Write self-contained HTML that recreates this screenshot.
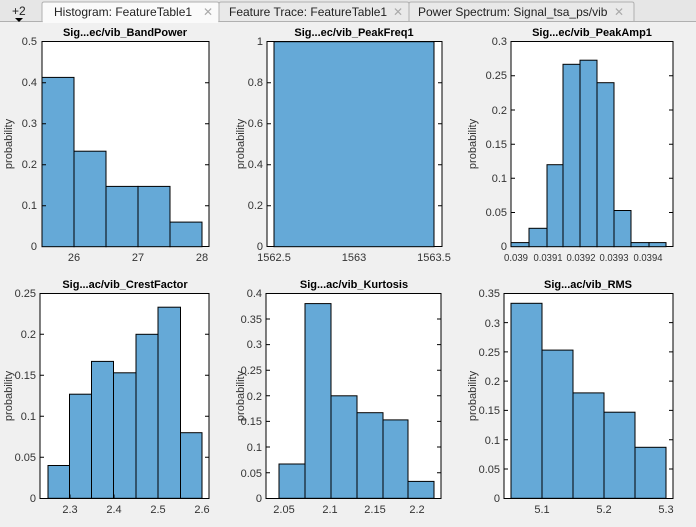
<!DOCTYPE html>
<html><head><style>
body{margin:0;background:#f0f0f0;width:696px;height:527px;overflow:hidden;font-family:"Liberation Sans",sans-serif}
svg{display:block}
.t{font:11px "Liberation Sans",sans-serif;fill:#333}
.ti{font:bold 11px "Liberation Sans",sans-serif;fill:#000}
.b{fill:#65a9d7;stroke:#000;stroke-width:1}
.ax{fill:#fff;stroke:#000;stroke-width:1}
.tk{stroke:#000;stroke-width:1}
.tab{font:12px "Liberation Sans",sans-serif;fill:#222}
</style></head><body>
<svg width="696" height="527" viewBox="0 0 696 527">
<rect width="696" height="527" fill="#f0f0f0"/>
<!-- tabs -->
<rect x="0" y="0" width="696" height="21" fill="#e6e6e6"/>
<line x1="0" y1="21.5" x2="696" y2="21.5" stroke="#b0b0b0"/>
<text x="12" y="15" class="tab">+2</text>
<path d="M15 18h8l-4 4z" fill="#000"/>
<path d="M42 21.5V4q0-2 2-2h173q2 0 2 2v17.5" fill="#fafafa" stroke="#b0b0b0"/>
<rect x="43" y="20" width="175" height="3" fill="#fafafa"/>
<text x="54" y="16" class="tab">Histogram: FeatureTable1</text>
<text x="203" y="16" class="tab" style="fill:#aaa">✕</text>
<path d="M219 21V4q0-2 2-2h186q2 0 2 2v17" fill="#e9e9e9" stroke="#b0b0b0"/>
<text x="229" y="16" class="tab">Feature Trace: FeatureTable1</text>
<text x="393" y="16" class="tab" style="fill:#aaa">✕</text>
<path d="M409 21V4q0-2 2-2h221q2 0 2 2v17" fill="#e9e9e9" stroke="#b0b0b0"/>
<text x="418" y="16" class="tab">Power Spectrum: Signal_tsa_ps/vib</text>
<text x="614" y="16" class="tab" style="fill:#aaa">✕</text>

<!-- Plot 1 -->
<text x="125" y="36" class="ti" text-anchor="middle">Sig...ec/vib_BandPower</text>
<rect x="42" y="41.5" width="167" height="205" class="ax"/>
<rect x="42" y="77.4" width="32" height="169.3" class="b"/>
<rect x="74" y="151.2" width="32" height="95.5" class="b"/>
<rect x="106" y="186.4" width="32" height="60.3" class="b"/>
<rect x="138" y="186.4" width="32" height="60.3" class="b"/>
<rect x="170" y="222.1" width="32" height="24.6" class="b"/>
<g class="tk"><path d="M42 205.7h4M42 164.7h4M42 123.7h4M42 82.7h4M209 205.7h-4M209 164.7h-4M209 123.7h-4M209 82.7h-4M74 246.5v-4M138 246.5v-4M202 246.5v-4"/></g>
<g class="t" text-anchor="end"><text x="37" y="250">0</text><text x="37" y="209">0.1</text><text x="37" y="168">0.2</text><text x="37" y="127">0.3</text><text x="37" y="86">0.4</text><text x="37" y="45">0.5</text></g>
<g class="t" text-anchor="middle"><text x="74" y="261">26</text><text x="138" y="261">27</text><text x="202" y="261">28</text></g>
<text class="t" transform="translate(12,144) rotate(-90)" text-anchor="middle">probability</text>

<!-- Plot 2 -->
<text x="354" y="36" class="ti" text-anchor="middle">Sig...ec/vib_PeakFreq1</text>
<rect x="267" y="41.5" width="175" height="205" class="ax"/>
<rect x="274" y="41.7" width="160" height="205" class="b"/>
<g class="tk"><path d="M267 205.7h4M267 164.7h4M267 123.7h4M267 82.7h4M442 205.7h-4M442 164.7h-4M442 123.7h-4M442 82.7h-4"/></g>
<g class="t" text-anchor="end"><text x="263" y="250">0</text><text x="263" y="209">0.2</text><text x="263" y="168">0.4</text><text x="263" y="127">0.6</text><text x="263" y="86">0.8</text><text x="263" y="45">1</text></g>
<g class="t" text-anchor="middle"><text x="274" y="261">1562.5</text><text x="354" y="261">1563</text><text x="434" y="261">1563.5</text></g>
<text class="t" transform="translate(244,144) rotate(-90)" text-anchor="middle">probability</text>

<!-- Plot 3 -->
<text x="592" y="36" class="ti" text-anchor="middle">Sig...ec/vib_PeakAmp1</text>
<rect x="511" y="41.5" width="162" height="205" class="ax"/>
<rect x="511" y="242.6" width="18" height="4.1" class="b"/>
<rect x="529" y="228.3" width="18" height="18.4" class="b"/>
<rect x="547" y="164.7" width="16" height="82" class="b"/>
<rect x="563" y="64.3" width="17" height="182.4" class="b"/>
<rect x="580" y="60.2" width="17" height="186.5" class="b"/>
<rect x="597" y="82.7" width="17" height="164" class="b"/>
<rect x="614" y="210.5" width="17" height="36.2" class="b"/>
<rect x="631" y="242.6" width="18" height="4.1" class="b"/>
<rect x="649" y="242.6" width="17" height="4.1" class="b"/>
<g class="tk"><path d="M511 212.5h4M511 178.3h4M511 144.2h4M511 110h4M511 75.8h4M673 212.5h-4M673 178.3h-4M673 144.2h-4M673 110h-4M673 75.8h-4"/></g>
<g class="t" text-anchor="end"><text x="507" y="250">0</text><text x="507" y="216">0.05</text><text x="507" y="182">0.1</text><text x="507" y="148">0.15</text><text x="507" y="114">0.2</text><text x="507" y="79">0.25</text><text x="507" y="45">0.3</text></g>
<g class="t" text-anchor="middle" style="font-size:10px"><text x="516" y="261" textLength="24" lengthAdjust="spacingAndGlyphs">0.039</text><text x="548" y="261" textLength="29" lengthAdjust="spacingAndGlyphs">0.0391</text><text x="581" y="261" textLength="29" lengthAdjust="spacingAndGlyphs">0.0392</text><text x="614" y="261" textLength="29" lengthAdjust="spacingAndGlyphs">0.0393</text><text x="648" y="261" textLength="29" lengthAdjust="spacingAndGlyphs">0.0394</text></g>
<text class="t" transform="translate(476,144) rotate(-90)" text-anchor="middle">probability</text>

<!-- Plot 4 -->
<text x="125" y="288" class="ti" text-anchor="middle">Sig...ac/vib_CrestFactor</text>
<rect x="40" y="293.5" width="169" height="205" class="ax"/>
<rect x="48" y="465.5" width="21.5" height="32.8" class="b"/>
<rect x="69.5" y="394.2" width="22" height="104.1" class="b"/>
<rect x="91.5" y="361.4" width="22" height="136.9" class="b"/>
<rect x="113.5" y="372.8" width="22.5" height="125.5" class="b"/>
<rect x="136" y="334.3" width="22" height="164" class="b"/>
<rect x="158" y="307.2" width="22.5" height="191.1" class="b"/>
<rect x="180.5" y="432.7" width="21.5" height="65.6" class="b"/>
<g class="tk"><path d="M40 457.3h4M40 416.3h4M40 375.3h4M40 334.3h4M209 457.3h-4M209 416.3h-4M209 375.3h-4M209 334.3h-4M70 498.5v-4M114 498.5v-4M158 498.5v-4"/></g>
<g class="t" text-anchor="end"><text x="36" y="502">0</text><text x="36" y="461">0.05</text><text x="36" y="420">0.1</text><text x="36" y="379">0.15</text><text x="36" y="338">0.2</text><text x="36" y="297">0.25</text></g>
<g class="t" text-anchor="middle"><text x="70" y="513">2.3</text><text x="114" y="513">2.4</text><text x="158" y="513">2.5</text><text x="202" y="513">2.6</text></g>
<text class="t" transform="translate(12,396) rotate(-90)" text-anchor="middle">probability</text>

<!-- Plot 5 -->
<text x="354" y="288" class="ti" text-anchor="middle">Sig...ac/vib_Kurtosis</text>
<rect x="266" y="293.5" width="175" height="205" class="ax"/>
<rect x="279" y="464" width="26" height="34.3" class="b"/>
<rect x="305" y="303.6" width="26" height="194.7" class="b"/>
<rect x="331" y="395.8" width="26" height="102.5" class="b"/>
<rect x="357" y="412.7" width="26" height="85.6" class="b"/>
<rect x="383" y="419.9" width="25" height="78.4" class="b"/>
<rect x="408" y="481.4" width="26" height="16.9" class="b"/>
<g class="tk"><path d="M266 472.7h4M266 447h4M266 421.4h4M266 395.8h4M266 370.2h4M266 344.6h4M266 319h4M441 472.7h-4M441 447h-4M441 421.4h-4M441 395.8h-4M441 370.2h-4M441 344.6h-4M441 319h-4"/></g>
<g class="t" text-anchor="end"><text x="262" y="502">0</text><text x="262" y="477">0.05</text><text x="262" y="451">0.1</text><text x="262" y="425">0.15</text><text x="262" y="400">0.2</text><text x="262" y="374">0.25</text><text x="262" y="348">0.3</text><text x="262" y="323">0.35</text><text x="262" y="297">0.4</text></g>
<g class="t" text-anchor="middle"><text x="284" y="513">2.05</text><text x="330" y="513">2.1</text><text x="375" y="513">2.15</text><text x="417" y="513">2.2</text></g>
<text class="t" transform="translate(244,396) rotate(-90)" text-anchor="middle">probability</text>

<!-- Plot 6 -->
<text x="588" y="288" class="ti" text-anchor="middle">Sig...ac/vib_RMS</text>
<rect x="504" y="293.5" width="169" height="205" class="ax"/>
<rect x="511" y="303.3" width="31" height="195" class="b"/>
<rect x="542" y="350.1" width="31" height="148.2" class="b"/>
<rect x="573" y="392.9" width="31" height="105.4" class="b"/>
<rect x="604" y="412.2" width="31" height="86.1" class="b"/>
<rect x="635" y="447.3" width="31" height="51" class="b"/>
<g class="tk"><path d="M504 469h4M504 439.7h4M504 410.4h4M504 381.1h4M504 351.9h4M504 322.6h4M673 469h-4M673 439.7h-4M673 410.4h-4M673 381.1h-4M673 351.9h-4M673 322.6h-4M542 498.5v-4M604 498.5v-4"/></g>
<g class="t" text-anchor="end"><text x="500" y="502">0</text><text x="500" y="473">0.05</text><text x="500" y="444">0.1</text><text x="500" y="414">0.15</text><text x="500" y="385">0.2</text><text x="500" y="356">0.25</text><text x="500" y="327">0.3</text><text x="500" y="297">0.35</text></g>
<g class="t" text-anchor="middle"><text x="542" y="513">5.1</text><text x="604" y="513">5.2</text><text x="666" y="513">5.3</text></g>
<text class="t" transform="translate(476,396) rotate(-90)" text-anchor="middle">probability</text>
</svg>
</body></html>
